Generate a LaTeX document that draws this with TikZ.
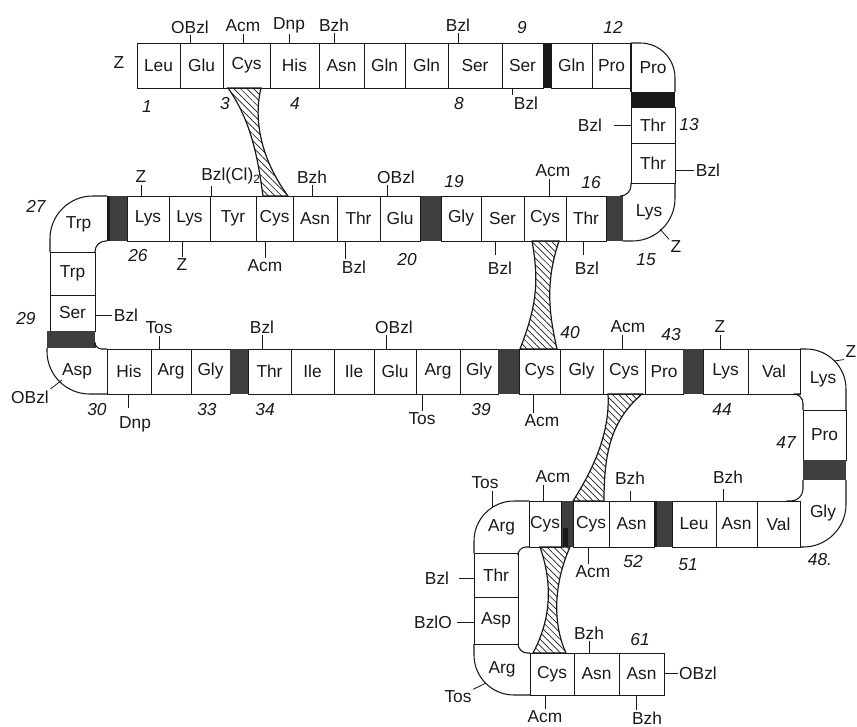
\documentclass[tikz,border=0pt]{standalone}
\usepackage{fontspec}
\setmainfont{Liberation Sans}
\usepackage{xcolor}
\usepackage{tikz}
\usetikzlibrary{positioning, calc, patterns.meta}
\definecolor{ink}{RGB}{25,25,25}
\definecolor{bargrey}{RGB}{62,62,62}
\tikzstyle{res}=[rectangle, draw=ink, line width=0.6pt, minimum width=#1*0.75pt,
  minimum height=33.75pt, inner sep=0pt, outer sep=0pt, text=ink,
  font=\fontsize{13}{15}\selectfont]
\tikzstyle{bend}=[res=#1, draw=none]
\tikzstyle{gap}=[res=#1, draw=none, fill=bargrey]
\tikzstyle{grp}=[inner sep=1pt, text=ink, font=\fontsize{13}{15}\selectfont]
\tikzstyle{num}=[inner sep=1pt, text=ink, font=\fontsize{13}{15}\selectfont\itshape]
\tikzstyle{stub}=[draw=ink, line width=0.6pt]
\tikzstyle{edge}=[draw=ink, line width=0.8pt]
\tikzstyle{bond}=[draw=ink, line width=0.9pt,
  pattern={Lines[angle=-45, distance=3.5pt, line width=0.5pt]}, pattern color=ink]

\begin{document}
\begin{tikzpicture}[x=0.75pt, y=-0.75pt]
  \useasboundingbox (0,0) rectangle (857,726);
  % first row, left to right
  \node[res=43, anchor=west] (leu1) at (137,65.5) {Leu};
  \node[res=43, right=0pt of leu1] (glu2) {Glu};
  \node[res=47, right=0pt of glu2] (cys3) {Cys};
  \node[res=49, right=0pt of cys3] (his4) {His};
  \node[res=45, right=0pt of his4] (asn5) {Asn};
  \node[res=41, right=0pt of asn5] (gln6) {Gln};
  \node[res=43, right=0pt of gln6] (gln7) {Gln};
  \node[res=54, right=0pt of gln7] (ser8) {Ser};
  \node[res=41, right=0pt of ser8] (ser9) {Ser};
  \node[gap=8, fill=ink, right=0pt of ser9] (gap9) {};
  \node[res=41, right=0pt of gap9] (gln10) {Gln};
  \node[res=39, right=0pt of gln10] (pro11) {Pro};
  \node[bend=44, minimum height=36.75pt, anchor=north west] (pro12) at (pro11.north east) {Pro};
  % right column
  \node[gap=44, fill=ink, minimum height=11.25pt, below=0pt of pro12] (gap12) {};
  \node[res=44, minimum height=27pt, below=0pt of gap12] (thr13) {Thr};
  \node[res=44, minimum height=30pt, below=0pt of thr13] (thr14) {Thr};
  \node[bend=52, minimum height=43.5pt, anchor=north east] (lys15) at (thr14.south east) {Lys};
  % second row, right to left
  \node[gap=17, anchor=south east] (gap15) at (lys15.south west) {};
  \node[res=40, left=0pt of gap15] (thr16) {Thr};
  \node[res=42, left=0pt of thr16] (cys17) {Cys};
  \node[res=43, left=0pt of cys17] (ser18) {Ser};
  \node[res=40, left=0pt of ser18] (gly19) {Gly};
  \node[gap=21, left=0pt of gly19] (gap19) {};
  \node[res=40, left=0pt of gap19] (glu20) {Glu};
  \node[res=43, left=0pt of glu20] (thr21) {Thr};
  \node[res=44, left=0pt of thr21] (asn22) {Asn};
  \node[res=37, left=0pt of asn22] (cys23) {Cys};
  \node[res=46, left=0pt of cys23] (tyr24) {Tyr};
  \node[res=41, left=0pt of tyr24] (lys25) {Lys};
  \node[res=42, left=0pt of lys25] (lys26) {Lys};
  \node[gap=20, left=0pt of lys26] (gap26) {};
  \node[bend=57, minimum height=42pt, anchor=north east] (trp27) at (gap26.north west) {Trp};
  % left column
  \node[res=45, minimum height=32.25pt, anchor=north west] (trp28) at (trp27.south west) {Trp};
  \node[res=45, minimum height=27pt, below=0pt of trp28] (ser29) {Ser};
  \node[gap=48, minimum height=12.75pt, anchor=north east] (gap29) at (ser29.south east) {};
  \node[bend=60, minimum height=34.5pt, anchor=north west] (asp30) at (gap29.south west) {Asp};
  % third row, left to right
  \node[res=44, anchor=south west] (his31) at (asp30.south east) {His};
  \node[res=40, right=0pt of his31] (arg32) {Arg};
  \node[res=39, right=0pt of arg32] (gly33) {Gly};
  \node[gap=18, right=0pt of gly33] (gap33) {};
  \node[res=43, right=0pt of gap33] (thr34) {Thr};
  \node[res=43, right=0pt of thr34] (ile35) {Ile};
  \node[res=40, right=0pt of ile35] (ile36) {Ile};
  \node[res=42, right=0pt of ile36] (glu37) {Glu};
  \node[res=44, right=0pt of glu37] (arg38) {Arg};
  \node[res=38, right=0pt of arg38] (gly39) {Gly};
  \node[gap=21, right=0pt of gly39] (gap39) {};
  \node[res=41, right=0pt of gap39] (cys40) {Cys};
  \node[res=43, right=0pt of cys40] (gly41) {Gly};
  \node[res=42, right=0pt of gly41] (cys42) {Cys};
  \node[res=38, right=0pt of cys42] (pro43) {Pro};
  \node[gap=20, right=0pt of pro43] (gap43) {};
  \node[res=45, right=0pt of gap43] (lys44) {Lys};
  \node[res=52, right=0pt of lys44] (val45) {Val};
  \node[bend=46, minimum height=45.75pt, anchor=north west] (lys46) at (val45.north east) {Lys};
  % far right column
  \node[res=43, minimum height=37.5pt, anchor=north east] (pro47) at (lys46.south east) {Pro};
  \node[gap=43, minimum height=15pt, below=0pt of pro47] (gap47) {};
  \node[bend=46, minimum height=50.25pt, anchor=north east] (gly48) at (gap47.south east) {Gly};
  % fourth row, right to left
  \begin{scope}[res/.append style={minimum height=34.5pt}]
    \node[res=43, anchor=south east] (val49) at (gly48.south west) {Val};
    \node[res=41, left=0pt of val49] (asn50) {Asn};
    \node[res=44, left=0pt of asn50] (leu51) {Leu};
    \node[gap=18, left=0pt of leu51] (gap51) {};
    \node[res=45, left=0pt of gap51] (asn52) {Asn};
    \node[res=36, left=0pt of asn52] (cys53) {Cys};
    \node[gap=12, left=0pt of cys53] (gap53) {};
    \node[res=32, left=0pt of gap53] (cys54) {Cys};
  \end{scope}
  \node[bend=55, minimum height=39pt, anchor=north east] (arg55) at (cys54.north west) {Arg};
  \node[res=44, minimum height=33pt, anchor=north west] (thr56) at (arg55.south west) {Thr};
  \node[res=44, minimum height=35.25pt, below=0pt of thr56] (asp57) {Asp};
  \node[bend=56, minimum height=38.25pt, anchor=north west] (arg58) at (asp57.south west) {Arg};
  % last row
  \begin{scope}[res/.append style={minimum height=31.5pt}]
    \node[res=44, anchor=south west] (cys59) at (arg58.south east) {Cys};
    \node[res=45, right=0pt of cys59] (asn60) {Asn};
    \node[res=45, right=0pt of asn60] (asn61) {Asn};
  \end{scope}

  % outer bends
  \draw[edge, rounded corners=26pt] (pro12.north west) -| (gap12.north east);
  \draw[edge] (pro12.north west) -- (pro12.south west);
  \draw[edge, rounded corners=32pt] (lys15.north east) |- (gap15.south east);
  \draw[edge, rounded corners=32pt] (trp27.south west) |- (trp27.north east);
  \draw[edge, rounded corners=32pt] (asp30.north west) |- (asp30.south east);
  \draw[edge, rounded corners=30pt] (lys46.north west) -| (lys46.south east);
  \draw[edge, rounded corners=32pt] (gly48.north east) |- (gly48.south west);
  \draw[edge, rounded corners=30pt] (arg55.north east) -| (arg55.south west);
  \draw[edge, rounded corners=30pt] (arg58.north west) |- (arg58.south east);
  % inner bends
  \draw[edge, rounded corners=8pt] (thr14.south west) |- (gap15.north east);
  \draw[edge, rounded corners=8pt] (gap26.south west) -| (trp28.north east);
  \draw[edge, rounded corners=5pt] (gap29.south east) |- (his31.north west);
  \draw[edge, rounded corners=7pt] (val45.south east) -| (pro47.north west);
  \draw[edge, rounded corners=9pt] (gap47.south west) |- ([xshift=-10pt]val49.north east);
  \draw[edge, rounded corners=6pt] (cys54.south west) -| (thr56.north east);
  \draw[edge, rounded corners=7pt] (asp57.south east) |- (cys59.north west);
  % black edges of the bars
  \fill[ink] (gap26.north west) rectangle ++(3,45);
  \fill[ink] (gap51.north west) rectangle ++(3,46);
  \fill[ink] ([xshift=-3pt]gap53.south) rectangle ++(5,-19);

  % bridges
  \draw[bond] ([xshift=3.75pt]cys3.south west) .. controls (252,122) and (258,160) .. ([xshift=5.25pt]cys23.north west)
    -- ([xshift=-3.75pt]cys23.north east) .. controls (265,165) and (252,125) .. ([xshift=-6.75pt]cys3.south east) -- cycle;
  \draw[bond] ([xshift=6pt]cys17.south west) .. controls (540,285) and (535,310) .. ([xshift=0.75pt]cys40.north west)
    -- ([xshift=-2.25pt]cys40.north east) .. controls (548,310) and (546,280) .. ([xshift=-5.25pt]cys17.south east) -- cycle;
  \draw[bond] ([xshift=3.75pt]cys42.south west) .. controls (610,430) and (596,465) .. (cys53.north west)
    -- ([xshift=-3.75pt]cys53.north east) .. controls (604,450) and (612,420) .. ([xshift=-2.25pt]cys42.south east) -- cycle;
  \draw[bond] ([xshift=8.25pt]cys54.south west) .. controls (555,590) and (548,625) .. ([xshift=2.25pt]cys59.north west)
    -- ([xshift=-6pt]cys59.north east) .. controls (553,625) and (553,585) .. ([xshift=-2.25pt]gap53.south east) -- cycle;

  % groups over and under the first row
  \node[grp] (z1) at (119,63) {Z};
  \node[grp] (obzl2) at (190,27) {OBzl};
  \node[grp] (acm3) at (243,26) {Acm};
  \node[grp] (dnp4) at (289,25) {Dnp};
  \node[grp] (bzh5) at (334,25) {Bzh};
  \node[grp] (bzl8) at (458,25) {Bzl};
  \node[grp] (bzl9) at (526,103) {Bzl};
  \draw[stub] (obzl2.south) -- (obzl2.south |- glu2.north);
  \draw[stub] (acm3.south) -- (acm3.south |- cys3.north);
  \draw[stub] (dnp4.south) -- (dnp4.south |- his4.north);
  \draw[stub] (bzh5.south) -- (bzh5.south |- asn5.north);
  \draw[stub] (bzl8.south) -- (bzl8.south |- ser8.north);
  \draw[stub] (bzl9.north west) -- (bzl9.north west |- ser9.south);
  % right column
  \node[grp] (bzl13) at (590,125) {Bzl};
  \node[grp] (bzl14) at (708,170) {Bzl};
  \node[grp] (z15) at (676,247) {Z};
  \draw[stub, shorten <=8pt] (bzl13.east) -- (bzl13.east -| thr13.west);
  \draw[stub] (bzl14.west) -- (bzl14.west -| thr14.east);
  \draw[stub] (z15.north west) -- ($(lys15.south east)+(-15,-12)$);
  % second row
  \node[grp] (z26) at (141,177) {Z};
  \node[grp] (bzlcl24) at (231,176) {Bzl(Cl)\textsubscript{2}};
  \node[grp] (bzh22) at (312,177) {Bzh};
  \node[grp] (obzl20) at (396,177) {OBzl};
  \node[grp] (acm17) at (553,171) {Acm};
  \node[grp] (z25) at (182,265) {Z};
  \node[grp] (acm23) at (265,266) {Acm};
  \node[grp] (bzl21) at (354,267) {Bzl};
  \node[grp] (bzl18) at (500,268) {Bzl};
  \node[grp] (bzl16) at (587,268) {Bzl};
  \draw[stub] (z26.south) -- (z26.south |- lys26.north);
  \draw[stub] ([xshift=-15pt]bzlcl24.south) -- ([xshift=-15pt]bzlcl24.south |- tyr24.north);
  \draw[stub] (bzh22.south) -- (bzh22.south |- asn22.north);
  \draw[stub] ([xshift=-6.75pt]obzl20.south) -- ([xshift=-6.75pt]obzl20.south |- glu20.north);
  \draw[stub] ([xshift=-3pt]acm17.south) -- ([xshift=-3pt]acm17.south |- cys17.north);
  \draw[stub] (z25.north) -- (z25.north |- lys25.south);
  \draw[stub] (acm23.north) -- (acm23.north |- cys23.south);
  \draw[stub] ([xshift=-6.75pt]bzl21.north) -- ([xshift=-6.75pt]bzl21.north |- thr21.south);
  \draw[stub, shorten <=4pt] ([xshift=-3.75pt]bzl18.north) -- ([xshift=-3.75pt]bzl18.north |- ser18.south);
  \draw[stub, shorten <=4pt] ([xshift=-3pt]bzl16.north) -- ([xshift=-3pt]bzl16.north |- thr16.south);
  % left column
  \node[grp] (bzl29) at (126,315) {Bzl};
  \node[grp] (obzl30) at (30,397) {OBzl};
  \draw[stub] (bzl29.west) -- (bzl29.west -| ser29.east);
  \draw[stub] (obzl30.north east) -- ($(asp30.south west)+(15,-14)$);
  % third row
  \node[grp] (tos32) at (159,328) {Tos};
  \node[grp] (bzl34) at (262,327) {Bzl};
  \node[grp] (obzl37) at (394,327) {OBzl};
  \node[grp] (acm42) at (628,327) {Acm};
  \node[grp] (z44) at (720,327) {Z};
  \node[grp] (z46) at (851,352) {Z};
  \node[grp] (dnp31) at (135,424) {Dnp};
  \node[grp] (tos38) at (422,419) {Tos};
  \node[grp] (acm40) at (542,421) {Acm};
  \draw[stub] (tos32.south) -- (tos32.south |- arg32.north);
  \draw[stub] (bzl34.south) -- (bzl34.south |- thr34.north);
  \draw[stub] ([xshift=-6pt]obzl37.south) -- ([xshift=-6pt]obzl37.south |- glu37.north);
  \draw[stub] ([xshift=-4.5pt]acm42.south) -- ([xshift=-4.5pt]acm42.south |- cys42.north);
  \draw[stub] (z44.south) -- (z44.south |- lys44.north);
  \draw[stub] (z46.south west) -- ($(lys46.north east)+(-12,12)$);
  \draw[stub, shorten <=5pt] ([xshift=-5.25pt]dnp31.north) -- ([xshift=-5.25pt]dnp31.north |- his31.south);
  \draw[stub] (tos38.north) -- (tos38.north |- arg38.south);
  \draw[stub] ([xshift=-6.75pt]acm40.north) -- ([xshift=-6.75pt]acm40.north |- cys40.south);
  % fourth row and the loop
  \node[grp] (tos55) at (485,483) {Tos};
  \node[grp] (acm54) at (553,477) {Acm};
  \node[grp] (bzh52) at (630,478) {Bzh};
  \node[grp] (bzh50) at (728,477) {Bzh};
  \node[grp] (acm53) at (593,572) {Acm};
  \node[grp] (bzl56) at (437,578) {Bzl};
  \node[grp] (bzlo57) at (433,622) {BzlO};
  \draw[stub] ([xshift=5.25pt]tos55.south) -- ($(arg55.north west)+(18,7)$);
  \draw[stub] ([xshift=-7.5pt]acm54.south) -- ([xshift=-7.5pt]acm54.south |- cys54.north);
  \draw[stub, shorten <=4pt] (bzh52.south) -- (bzh52.south |- asn52.north);
  \draw[stub, shorten <=3pt] ([xshift=-3.75pt]bzh50.south) -- ([xshift=-3.75pt]bzh50.south |- asn50.north);
  \draw[stub] ([xshift=-3.75pt]acm53.north) -- ([xshift=-3.75pt]acm53.north |- cys53.south);
  \draw[stub, shorten <=6pt] (bzl56.east) -- (bzl56.east -| thr56.west);
  \draw[stub, shorten <=3pt] (bzlo57.east) -- (bzlo57.east -| asp57.west);
  % last row
  \node[grp] (bzh60) at (589,633) {Bzh};
  \node[grp] (obzl61) at (698,673) {OBzl};
  \node[grp] (tos58) at (458,697) {Tos};
  \node[grp] (acm59) at (545,717) {Acm};
  \node[grp] (bzh61) at (647,718) {Bzh};
  \draw[stub] (bzh60.south) -- (bzh60.south |- asn60.north);
  \draw[stub] (obzl61.west) -- (obzl61.west -| asn61.east);
  \draw[stub] (tos58.north east) -- ($(arg58.south west)+(12,-12)$);
  \draw[stub] (acm59.north) -- (acm59.north |- cys59.south);
  \draw[stub] ([xshift=-8.25pt]bzh61.north) -- ([xshift=-8.25pt]bzh61.north |- asn61.south);

  % residue numbers
  \node[num] (n1) at (147,107) {1};
  \node[num] (n3) at (225,104) {3};
  \node[num] (n4) at (295,104) {4};
  \node[num] (n8) at (459,104) {8};
  \node[num] (n9) at (522,28) {9};
  \node[num] (n12) at (613,27) {12};
  \node[num] (n13) at (689,125) {13};
  \node[num] (n15) at (646,260) {15};
  \node[num] (n16) at (591,183) {16};
  \node[num] (n19) at (454,182) {19};
  \node[num] (n20) at (407,260) {20};
  \node[num] (n26) at (138,256) {26};
  \node[num] (n27) at (36,206) {27};
  \node[num] (n29) at (26,319) {29};
  \node[num] (n30) at (97,410) {30};
  \node[num] (n33) at (207,410) {33};
  \node[num] (n34) at (265,410) {34};
  \node[num] (n39) at (481,410) {39};
  \node[num] (n40) at (570,333) {40};
  \node[num] (n43) at (671,335) {43};
  \node[num] (n44) at (722,410) {44};
  \node[num] (n47) at (786,443) {47};
  \node[num] (n48) at (820,560) {48.};
  \node[num] (n51) at (688,565) {51};
  \node[num] (n52) at (633,562) {52};
  \node[num] (n61) at (640,640) {61};
\end{tikzpicture}
\end{document}
